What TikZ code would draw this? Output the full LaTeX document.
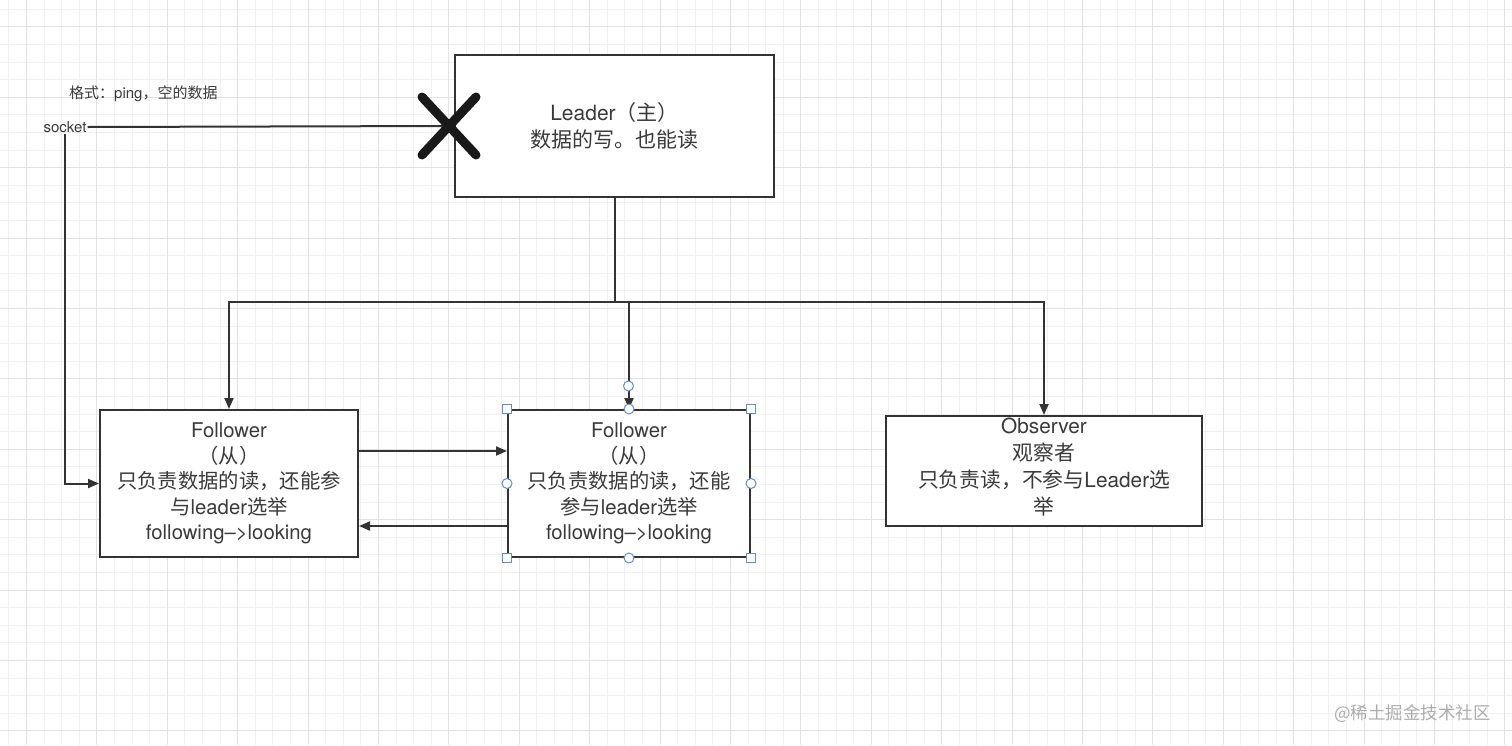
\documentclass[tikz,border=0pt]{standalone}
\usepackage{fontspec}
\setmainfont{Noto Sans CJK SC}
\newfontfamily\lat{TeX Gyre Heros}
\usetikzlibrary{arrows.meta,calc}
\definecolor{ink}{HTML}{333333}
\definecolor{txt}{HTML}{3A3A3A}
\definecolor{gmin}{HTML}{F0F0F0}
\definecolor{gmaj}{HTML}{E2E2E2}
\definecolor{handle}{HTML}{5B8FD0}
\tikzset{
  box/.style={draw=ink, line width=2pt, fill=white, rectangle, inner sep=0pt, align=center,
    text=txt, font=\fontsize{20.3}{25.5}\selectfont},
  conn/.style={draw=ink, line width=2pt},
  arr/.style={conn, -{Triangle[length=11pt,width=9pt]}},
  hsq/.style={draw=handle, fill=white, line width=1pt, rectangle, minimum size=9pt, inner sep=0pt},
  hci/.style={draw=handle, fill=white, line width=1pt, circle, minimum size=10pt, inner sep=0pt},
  small/.style={text=txt, font=\fontsize{15}{17}\selectfont, inner sep=1pt}
}
\begin{document}
\begin{tikzpicture}[x=1pt,y=-1pt]
\useasboundingbox (0,0) rectangle (1512,745);
\fill[white] (0,0) rectangle (1512,745);
% grid
\foreach \i in {0,...,85} {
  \pgfmathsetmacro\gx{8.9+17.6*\i}
  \draw[gmin, line width=1pt] (\gx,0) -- (\gx,745);
}
\foreach \i in {0,...,42} {
  \pgfmathsetmacro\gy{9.2+17.6*\i}
  \draw[gmin, line width=1pt] (0,\gy) -- (1512,\gy);
}
\foreach \i in {0,...,21} {
  \pgfmathsetmacro\gx{26.5+70.4*\i}
  \draw[gmaj, line width=1pt] (\gx,0) -- (\gx,745);
}
\foreach \i in {0,...,10} {
  \pgfmathsetmacro\gy{26.8+70.4*\i}
  \draw[gmaj, line width=1pt] (0,\gy) -- (1512,\gy);
}

% nodes
\node[box, minimum width=319pt, minimum height=142pt, font=\fontsize{21}{27}\selectfont] (L) at (614.5,126) {{\lat Leader}（主）\\数据的写。也能读};
\node[box, minimum width=258pt, minimum height=147pt] (F1) at (229,483.5)
  {{\lat Follower}\\（从）\\只负责数据的读，还能参\\与{\lat leader}选举\\{\lat following–>looking}};
\node[box, minimum width=242pt, minimum height=147pt] (F2) at (629,483.5)
  {{\lat Follower}\\（从）\\只负责数据的读，还能\\参与{\lat leader}选举\\{\lat following–>looking}};
\node[box, minimum width=316pt, minimum height=110pt] (O) at (1044,471) {};
\node[text=txt, font=\fontsize{20.8}{27}\selectfont, align=center, inner sep=0pt] (Ot) at (1044,467.5)
  {{\lat Observer}\\观察者\\只负责读，不参与{\lat Leader}选\\举};

\node[small] (S) at (65,127) {\lat socket};
\node[small, anchor=west] (fmt) at (68,94) {格式：{\lat ping}，空的数据};
\node[text=black!32, font=\fontsize{17.5}{20}\selectfont, anchor=east, inner sep=0pt] (wm) at (1491,714) {@稀土掘金技术社区};

% connectors
\coordinate (J) at (614.5,302);
\coordinate (X) at (449,126);
\draw[conn] (L.south) -- (J);
\draw[arr] (J) -| (F1.north);
\draw[arr] (J) -| (O.north);
\draw[arr] (J -| F2.north) -- (F2.north);
\draw[conn] (S.east) -- (X);
\draw[arr] (S.south) |- (F1.west);
\draw[arr] (F1.east |- 0,451) -- (F2.west |- 0,451);
\draw[arr] (F2.west |- 0,526) -- (F1.east |- 0,526);

% X mark
\draw[black!90, line width=9pt, line cap=round] ($(X)+(-27,-29)$) -- ($(X)+(27,29)$);
\draw[black!90, line width=9pt, line cap=round] ($(X)+(-27,29)$) -- ($(X)+(27,-29)$);

% selection handles
\node[hci] (hc) at (628.5,386) {};
\foreach \a in {north west, north east, south west, south east} { \node[hsq] at (F2.\a) {}; }
\foreach \a in {north, south, east, west} { \node[hci] at (F2.\a) {}; }
\end{tikzpicture}
\end{document}
